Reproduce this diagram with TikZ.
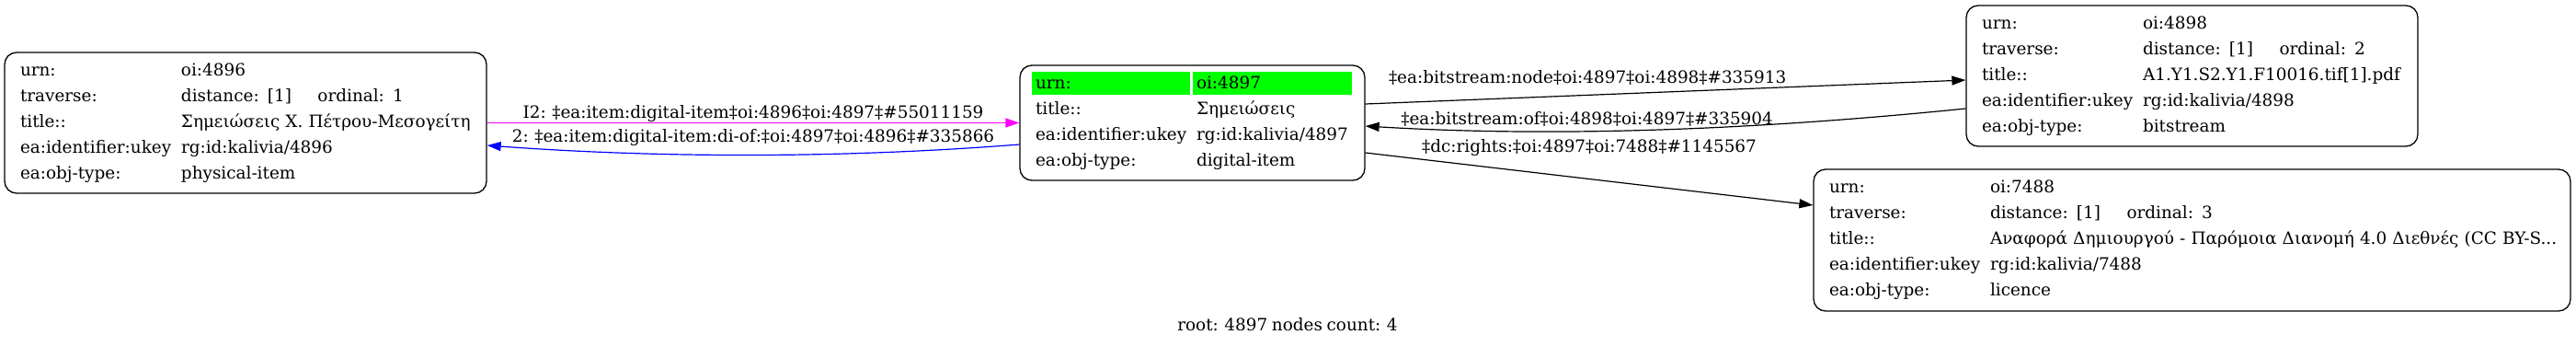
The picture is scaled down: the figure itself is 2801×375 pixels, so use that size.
\documentclass[tikz,border=0pt]{standalone}
\usepackage{fontspec}
\setmainfont{DejaVu Serif}[WordSpace=0.8]
\usepackage{tikz}
\usetikzlibrary{shapes,arrows.meta,positioning,calc,backgrounds}
\usepackage{xcolor}
\definecolor{rootgreen}{RGB}{0,255,0}
\definecolor{linkmagenta}{RGB}{255,0,255}
\definecolor{linkblue}{RGB}{0,0,255}
\newcommand{\fld}[2]{\makebox[175pt][l]{#1}\mbox{#2}}
\newcommand{\trv}[1]{\makebox[148.5pt][l]{distance: [1]}ordinal: #1}
\tikzset{
    record/.style={rectangle, draw=black, line width=1.3pt, rounded corners=13pt, align=left, inner xsep=17pt, inner ysep=0pt, font=\fontsize{18.4}{28}\selectfont},
    link/.style={line width=1.2pt, black, -{Triangle[length=15pt,width=10pt]}},
    linklabel/.style={font=\fontsize{18.4}{22}\selectfont, inner sep=0.5pt, text=black},
}

\begin{document}
\begin{tikzpicture}[x=1pt, y=-1pt]
    \useasboundingbox (0,0) rectangle (2801,375);

    % Physical item (left)
    \node[record, text width=490pt, minimum height=153pt] (n4896) at (267,133.5) {%
        \fld{urn:}{oi:4896}\\
        \fld{traverse:}{\trv{1}}\\
        \fld{title::}{Σημειώσεις Χ. Πέτρου-Μεσογείτη}\\
        \fld{ea:identifier:ukey}{rg:id:kalivia/4896}\\
        \fld{ea:obj-type:}{physical-item}};

    % Root digital item
    \node[record, text width=341pt, minimum height=125pt] (n4897) at (1296.5,133.5) {%
        \fld{urn:}{oi:4897}\\
        \fld{title::}{Σημειώσεις}\\
        \fld{ea:identifier:ukey}{rg:id:kalivia/4897}\\
        \fld{ea:obj-type:}{digital-item}};
    \begin{scope}[on background layer]
        \fill[rootgreen] ($(n4897.north west)+(14,8)$) rectangle ++(172,25);
        \fill[rootgreen] ($(n4897.north west)+(189,8)$) rectangle ++(173,25);
    \end{scope}

    % Bitstream (top right)
    \node[record, text width=457pt, minimum height=153pt] (n4898) at (2383.5,82.5) {%
        \fld{urn:}{oi:4898}\\
        \fld{traverse:}{\trv{2}}\\
        \fld{title::}{A1.Y1.S2.Y1.F10016.tif[1].pdf}\\
        \fld{ea:identifier:ukey}{rg:id:kalivia/4898}\\
        \fld{ea:obj-type:}{bitstream}};

    % Licence (bottom right)
    \node[record, text width=789pt, minimum height=154pt] (n7488) at (2383.5,261) {%
        \fld{urn:}{oi:7488}\\
        \fld{traverse:}{\trv{3}}\\
        \fld{title::}{Αναφορά Δημιουργού - Παρόμοια Διανομή 4.0 Διεθνές (CC BY-S...}\\
        \fld{ea:identifier:ukey}{rg:id:kalivia/7488}\\
        \fld{ea:obj-type:}{licence}};

    % Links
    \draw[link, linkmagenta] (n4896) -- (n4897)
        node[linklabel, midway, above] {I2: ‡ea:item:digital-item‡oi:4896‡oi:4897‡\#55011159};
    \draw[link, linkblue] ($(n4897.west)+(0,23.5)$) .. controls +(-190,15) and +(190,14) .. ($(n4896.east)+(0,24.5)$)
        node[linklabel, midway, above=9pt] {2: ‡ea:item:digital-item:di-of:‡oi:4897‡oi:4896‡\#335866};
    \draw[link] ($(n4897.east)+(0,-20.5)$) -- ($(n4898.west)+(0,4.5)$)
        node[linklabel, pos=0.37, above=10pt] {‡ea:bitstream:node‡oi:4897‡oi:4898‡\#335913};
    \draw[link] ($(n4898.west)+(0,35.5)$) .. controls +(-217,22) and +(216,13) .. ($(n4897.east)+(0,3.5)$)
        node[linklabel, pos=0.63, above=4.5pt] {‡ea:bitstream:of‡oi:4898‡oi:4897‡\#335904};
    \draw[link] ($(n4897.east)+(0,32.5)$) -- ($(n7488.west)+(0,-38)$)
        node[linklabel, pos=0.12, anchor=south west, inner sep=2.5pt] {‡dc:rights:‡oi:4897‡oi:7488‡\#1145567};

    \node[linklabel] (caption) at (1400,353) {root: 4897 nodes count: 4};
\end{tikzpicture}
\end{document}
